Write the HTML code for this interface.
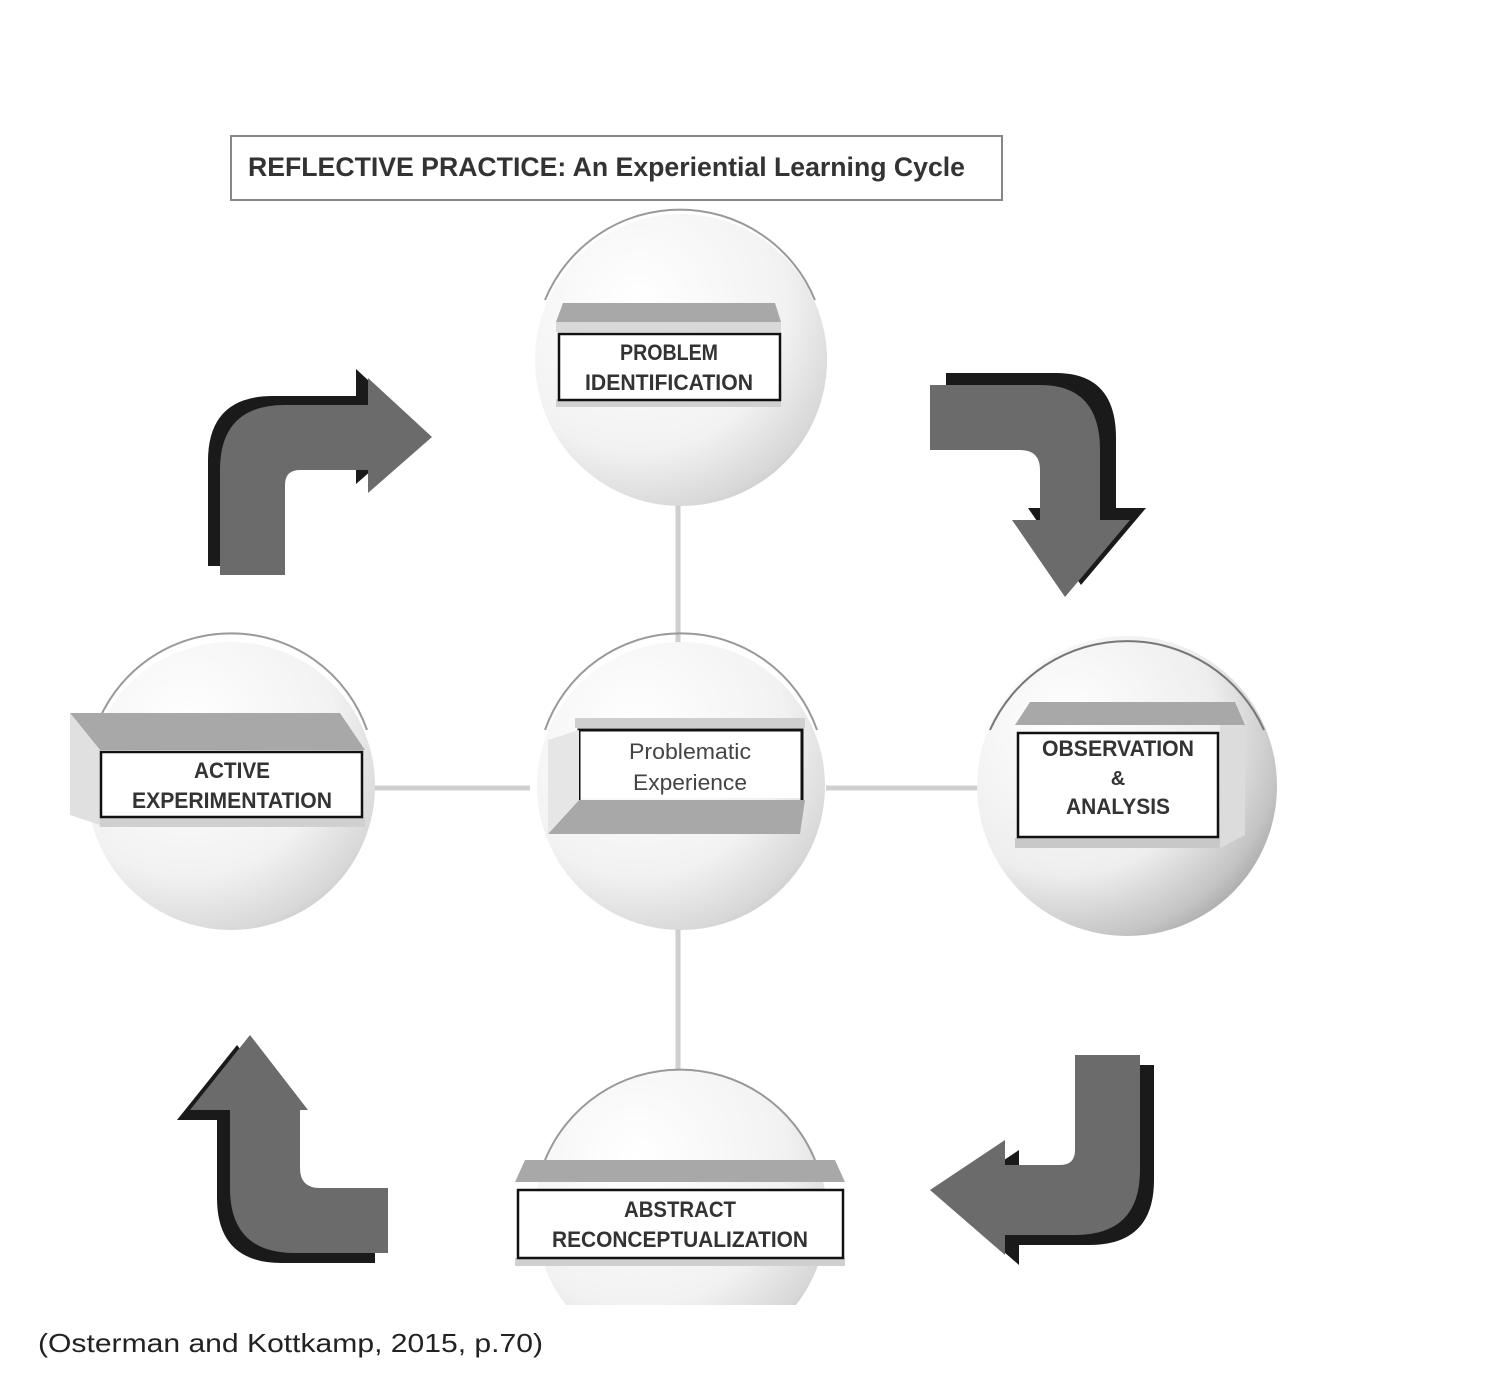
<!DOCTYPE html>
<html><head><meta charset="utf-8"><style>
html,body{margin:0;padding:0;background:#fff;}
svg{display:block;}
text{font-family:"Liberation Sans",sans-serif;}
</style></head><body>
<svg width="1510" height="1388" viewBox="0 0 1510 1388" xmlns="http://www.w3.org/2000/svg">
<defs>
<radialGradient id="cg" cx="0.35" cy="0.3" r="0.85">
<stop offset="0" stop-color="#ffffff"/><stop offset="0.6" stop-color="#f2f2f2"/><stop offset="0.85" stop-color="#d8d8d8"/><stop offset="1" stop-color="#b8b8b8"/>
</radialGradient>
<radialGradient id="cg2" cx="0.3" cy="0.3" r="0.9">
<stop offset="0" stop-color="#ffffff"/><stop offset="0.55" stop-color="#eeeeee"/><stop offset="0.8" stop-color="#c4c4c4"/><stop offset="1" stop-color="#888"/>
</radialGradient>
<clipPath id="clipb"><rect x="0" y="0" width="1510" height="1305"/></clipPath>
</defs>
<rect width="1510" height="1388" fill="#fff"/>
<!-- title -->
<rect x="231" y="136" width="771" height="64" fill="#fff" stroke="#888" stroke-width="2"/>
<text x="248" y="176" font-size="27" font-weight="bold" fill="#333" textLength="717" lengthAdjust="spacingAndGlyphs">REFLECTIVE PRACTICE: An Experiential Learning Cycle</text>
<!-- connectors -->
<g stroke="#cfcfcf" stroke-width="5">
<line x1="678" y1="500" x2="678" y2="645"/>
<line x1="678" y1="925" x2="678" y2="1070"/>
<line x1="372" y1="788" x2="530" y2="788"/>
<line x1="826" y1="788" x2="978" y2="788"/>
</g>
<!-- circles -->
<circle cx="681" cy="360" r="146" fill="url(#cg)"/>
<path d="M545,300 A146,146 0 0 1 815,300" fill="none" stroke="#999" stroke-width="2"/>
<circle cx="681" cy="786" r="144" fill="url(#cg)"/>
<path d="M545,730 A144,144 0 0 1 817,730" fill="none" stroke="#999" stroke-width="2"/>
<circle cx="231" cy="786" r="144" fill="url(#cg)"/>
<path d="M95,730 A144,144 0 0 1 367,730" fill="none" stroke="#999" stroke-width="2"/>
<circle cx="1127" cy="786" r="150" fill="url(#cg2)"/>
<path d="M990,730 A150,150 0 0 1 1264,730" fill="none" stroke="#777" stroke-width="2"/>
<g clip-path="url(#clipb)">
<circle cx="681" cy="1215" r="146" fill="url(#cg)"/>
<path d="M545,1160 A146,146 0 0 1 815,1160" fill="none" stroke="#999" stroke-width="2"/>
</g>
<!-- top box -->
<polygon points="563,303 775,303 781,322 556,322" fill="#a8a8a8"/>
<rect x="556" y="322" width="225" height="10" fill="#d8d8d8"/>
<rect x="556" y="399" width="225" height="8" fill="#d0d0d0"/>
<rect x="559" y="334" width="221" height="66" fill="#fff" stroke="#111" stroke-width="2.5"/>
<text x="669" y="360" font-size="22" font-weight="bold" fill="#333" text-anchor="middle" textLength="98" lengthAdjust="spacingAndGlyphs">PROBLEM</text>
<text x="669" y="390" font-size="22" font-weight="bold" fill="#333" text-anchor="middle" textLength="168" lengthAdjust="spacingAndGlyphs">IDENTIFICATION</text>
<!-- left box -->
<polygon points="70,713 340,713 365,750 100,750" fill="#a8a8a8"/>
<polygon points="70,713 100,750 100,825 70,815" fill="#e0e0e0"/>
<rect x="100" y="817" width="265" height="10" fill="#d0d0d0"/>
<rect x="101" y="752" width="261" height="65" fill="#fff" stroke="#111" stroke-width="2.5"/>
<text x="232" y="778" font-size="22" font-weight="bold" fill="#333" text-anchor="middle" textLength="76" lengthAdjust="spacingAndGlyphs">ACTIVE</text>
<text x="232" y="808" font-size="22" font-weight="bold" fill="#333" text-anchor="middle" textLength="200" lengthAdjust="spacingAndGlyphs">EXPERIMENTATION</text>
<!-- center box -->
<rect x="575" y="718" width="230" height="10" fill="#cfcfcf"/>
<rect x="579" y="730" width="223" height="68" fill="#fff"/>
<path d="M579,800 L579,730 L802,730 L802,800" fill="none" stroke="#111" stroke-width="3"/>
<polygon points="579,800 805,800 800,834 548,834" fill="#a8a8a8"/>
<polygon points="548,740 579,730 579,800 548,834" fill="#e6e6e6"/>
<text x="690" y="759" font-size="22" fill="#444" text-anchor="middle" textLength="122" lengthAdjust="spacingAndGlyphs">Problematic</text>
<text x="690" y="790" font-size="22" fill="#444" text-anchor="middle" textLength="114" lengthAdjust="spacingAndGlyphs">Experience</text>
<!-- right box -->
<polygon points="1030,702 1235,702 1245,725 1015,725" fill="#a8a8a8"/>
<polygon points="1220,725 1245,725 1245,835 1220,848" fill="#dcdcdc"/>
<rect x="1015" y="838" width="205" height="10" fill="#c8c8c8"/>
<rect x="1018" y="733" width="200" height="104" fill="#fff" stroke="#111" stroke-width="2.5"/>
<text x="1118" y="756" font-size="22" font-weight="bold" fill="#333" text-anchor="middle" textLength="152" lengthAdjust="spacingAndGlyphs">OBSERVATION</text>
<text x="1118" y="785" font-size="20" font-weight="bold" fill="#333" text-anchor="middle">&amp;</text>
<text x="1118" y="814" font-size="22" font-weight="bold" fill="#333" text-anchor="middle" textLength="104" lengthAdjust="spacingAndGlyphs">ANALYSIS</text>
<!-- bottom box -->
<polygon points="525,1160 835,1160 845,1182 515,1182" fill="#a8a8a8"/>
<rect x="515" y="1258" width="330" height="8" fill="#d0d0d0"/>
<rect x="518" y="1190" width="325" height="68" fill="#fff" stroke="#111" stroke-width="2.5"/>
<text x="680" y="1217" font-size="22" font-weight="bold" fill="#333" text-anchor="middle" textLength="112" lengthAdjust="spacingAndGlyphs">ABSTRACT</text>
<text x="680" y="1247" font-size="22" font-weight="bold" fill="#333" text-anchor="middle" textLength="256" lengthAdjust="spacingAndGlyphs">RECONCEPTUALIZATION</text>
<!-- arrows -->
<g>
<path transform="translate(-12,-9)" d="M220,575 L220,470 Q220,405 285,405 L368,405 L368,378 L432,437 L368,493 L368,470 L300,470 Q285,470 285,485 L285,575 Z" fill="#1a1a1a"/>
<path d="M220,575 L220,470 Q220,405 285,405 L368,405 L368,378 L432,437 L368,493 L368,470 L300,470 Q285,470 285,485 L285,575 Z" fill="#6b6b6b"/>
</g>
<g>
<path transform="translate(16,-12)" d="M930,385 L1040,385 Q1100,385 1100,450 L1100,520 L1130,520 L1065,597 L1012,520 L1040,520 L1040,470 Q1040,450 1020,450 L930,450 Z" fill="#1a1a1a"/>
<path d="M930,385 L1040,385 Q1100,385 1100,450 L1100,520 L1130,520 L1065,597 L1012,520 L1040,520 L1040,470 Q1040,450 1020,450 L930,450 Z" fill="#6b6b6b"/>
</g>
<g>
<path transform="translate(14,10)" d="M1140,1055 L1140,1170 Q1140,1235 1075,1235 L1005,1235 L1005,1255 L930,1190 L1005,1140 L1005,1165 L1060,1165 Q1075,1165 1075,1150 L1075,1055 Z" fill="#1a1a1a"/>
<path d="M1140,1055 L1140,1170 Q1140,1235 1075,1235 L1005,1235 L1005,1255 L930,1190 L1005,1140 L1005,1165 L1060,1165 Q1075,1165 1075,1150 L1075,1055 Z" fill="#6b6b6b"/>
</g>
<g>
<path transform="translate(-13,10)" d="M388,1188 L320,1188 Q300,1188 300,1168 L300,1110 L308,1110 L250,1035 L190,1110 L230,1110 L230,1188 Q230,1253 295,1253 L388,1253 Z" fill="#1a1a1a"/>
<path d="M388,1188 L320,1188 Q300,1188 300,1168 L300,1110 L308,1110 L250,1035 L190,1110 L230,1110 L230,1188 Q230,1253 295,1253 L388,1253 Z" fill="#6b6b6b"/>
</g>
<!-- caption -->
<text x="38" y="1352" font-size="26" fill="#222" textLength="505" lengthAdjust="spacingAndGlyphs">(Osterman and Kottkamp, 2015, p.70)</text>
</svg>
</body></html>
